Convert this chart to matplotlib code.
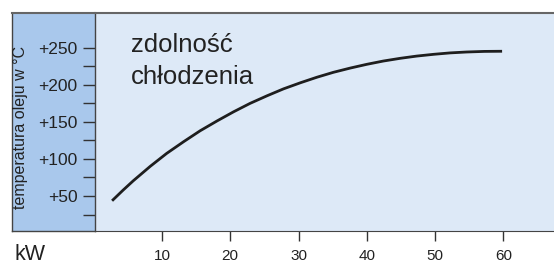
import matplotlib.pyplot as plt
from matplotlib.ticker import FixedLocator

plt.rcParams['font.family'] = ['Liberation Sans', 'DejaVu Sans']

# cooling capacity curve
power_kw = [2.7, 4.3, 5.8, 8.3, 10.7, 13.2, 15.6, 18.1, 20.5, 22.9, 25.4,
            27.8, 30.3, 32.7, 35.1, 37.6, 40.0, 42.4, 44.9, 47.3, 49.8,
            52.2, 54.6, 57.2, 59.8]
oil_temp = [43.6, 57.8, 70.5, 90.1, 107.5, 123.4, 138.0, 151.4, 163.6, 174.9,
            185.2, 194.5, 202.8, 210.2, 216.8, 222.6, 227.6, 232.0, 235.7,
            238.7, 241.1, 243.0, 244.2, 245.0, 245.2]

x_ticks = [10, 20, 30, 40, 50, 60]
y_major = [50, 100, 150, 200, 250]
y_minor = [25, 75, 125, 175, 225]
y_labels = ['+50', '+100', '+150', '+200', '+250']

W, H = 554, 264
fig = plt.figure(figsize=(W / 100, H / 100), dpi=100)

# blue side panel for the y axis labels
side = fig.add_axes([12 / W, 1 - 231 / H, 83 / W, 218 / H])
side.set_facecolor('#a9c8ec')
side.set_xticks([])
side.set_yticks([])
side.spines['right'].set_visible(False)
for s in ['bottom', 'left']:
    side.spines[s].set_color('#444444')
    side.spines[s].set_linewidth(1.0)
side.spines['top'].set_color('#666666')
side.spines['top'].set_linewidth(1.5)

ax = fig.add_axes([95 / W, 1 - 231 / H, (W - 95) / W, 218 / H])
ax.set_facecolor('#dde9f7')
ax.plot(power_kw, oil_temp, color='#1e1e1e', lw=2.0,
        solid_capstyle='butt', solid_joinstyle='round')

ax.set_xlim(0.2, 67.4)
ax.set_ylim(2.8, 296.8)
ax.set_xticks(x_ticks)
ax.set_xticklabels([str(v) for v in x_ticks], fontsize=11, color='#222222')
ax.yaxis.set_major_locator(FixedLocator(y_major))
ax.yaxis.set_minor_locator(FixedLocator(y_minor))
ax.set_yticklabels(y_labels, fontsize=12.5, color='#222222')
ax.tick_params(axis='y', which='both', length=8.6, width=1.0, color='#333333', pad=4)
ax.tick_params(axis='x', length=7.2, width=1.0, color='#333333', pad=6)

ax.spines['right'].set_visible(False)
ax.spines['top'].set_color('#666666')
ax.spines['top'].set_linewidth(1.5)
ax.spines['bottom'].set_color('#444444')
ax.spines['left'].set_color('#444444')
ax.spines['left'].set_linewidth(1.0)

fig.text(131 / W, 1 - 52 / H, 'zdolność', fontsize=18.5, color='#222222',
         va='baseline', ha='left')
fig.text(131 / W, 1 - 84.5 / H, 'chłodzenia', fontsize=18.5, color='#222222',
         va='baseline', ha='left')

fig.text(21 / W, 1 - 127.5 / H, 'temperatura oleju w °C', rotation=90,
         fontsize=11.5, color='#222222', ha='center', va='center')
fig.text(15 / W, 1 - 260 / H, 'kW', fontsize=15.5, color='#222222',
         ha='left', va='baseline')

fig.savefig('out.png', dpi=100, facecolor='white')
